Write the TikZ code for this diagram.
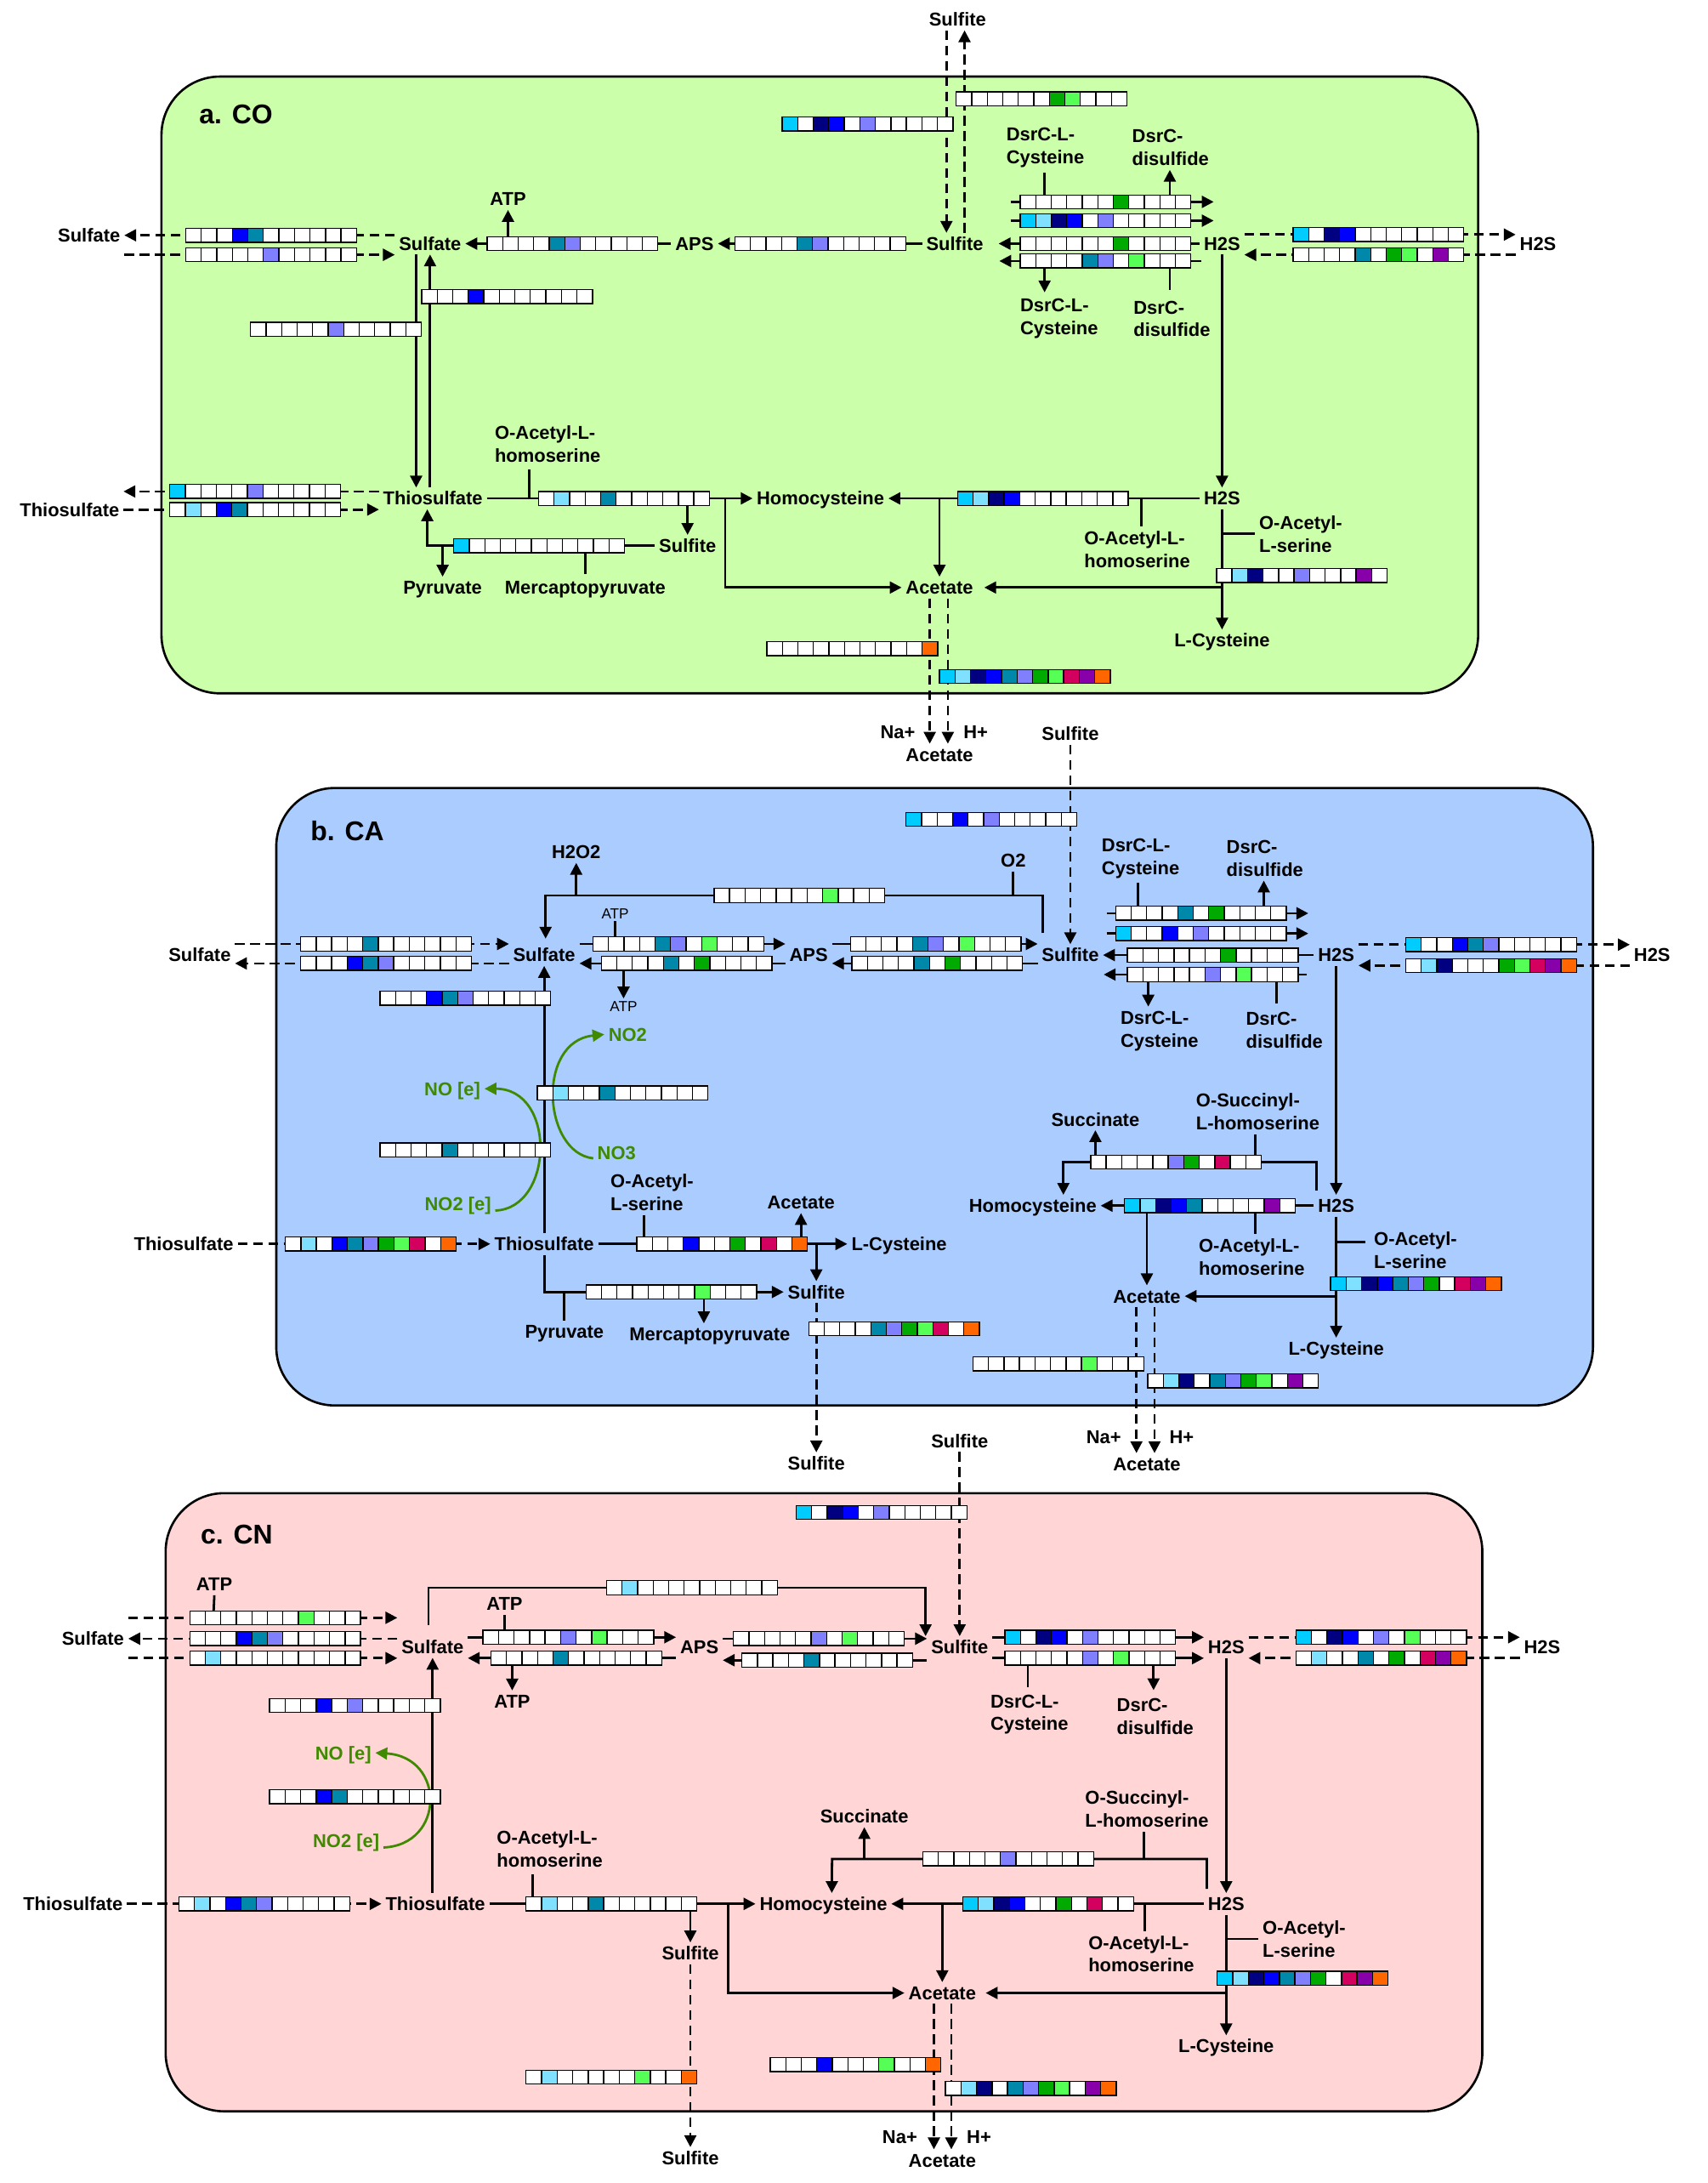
\documentclass[tikz,border=0pt]{standalone}
\usepackage{fontspec}
\setmainfont{Liberation Sans}
\usetikzlibrary{arrows.meta}
\definecolor{PanelGreen}{HTML}{CCFFAA}
\definecolor{PanelBlue}{HTML}{AACCFF}
\definecolor{PanelPink}{HTML}{FFD5D5}
\definecolor{NitroGreen}{HTML}{3F8A00}
\definecolor{g1}{HTML}{00CCFF}
\definecolor{g2}{HTML}{80E0FF}
\definecolor{g3}{HTML}{000080}
\definecolor{g4}{HTML}{0000FF}
\definecolor{g5}{HTML}{0088AA}
\definecolor{g6}{HTML}{8080FF}
\definecolor{g7}{HTML}{00AA00}
\definecolor{g8}{HTML}{55FF55}
\definecolor{g9}{HTML}{D40060}
\definecolor{g10}{HTML}{8800AA}
\definecolor{g11}{HTML}{FF6600}
\newcommand{\metabfont}{\fontsize{13.4}{16.3}\selectfont\bfseries}
\newcommand{\smallatpfont}{\fontsize{10.5}{12}\selectfont}
\newcommand{\panelfont}{\fontsize{19.5}{22}\selectfont\bfseries}
\pgfdeclarelayer{front}
\pgfsetlayers{main,front}
\tikzset{
  met/.style={font=\metabfont, inner sep=0pt, outer sep=3pt, text height=9.6pt, text depth=0pt},
  met2/.style={font=\metabfont, inner sep=0pt, outer sep=3pt, align=left},
  atp/.style={font=\smallatpfont, inner sep=0pt, outer sep=2pt, text height=7.6pt, text depth=0pt},
  nox/.style={met, text=NitroGreen},
  paneltitle/.style={font=\panelfont, inner sep=0pt, anchor=west},
  panelbox/.style={draw=black, line width=1.6pt, rounded corners=42pt},
  conn/.style={line width=1.7pt},
  arrow/.style={line width=1.7pt, -{Triangle[length=8.5pt, width=8.5pt]}},
  dasharrow/.style={arrow, dash pattern=on 7pt off 4pt},
  garrow/.style={arrow, draw=NitroGreen},
  gsq/.style={draw=black, line width=0.8pt},
  stripbox/.style={minimum width=122.65pt, minimum height=10pt, inner sep=0pt, outer sep=0pt}
}
% one strip of 11 genome squares: name, left x, centre y, coloured positions
\newcommand{\gstrip}[4]{%
  \begin{pgfonlayer}{front}
  \node[stripbox] (#1) at ({#2+61.325},#3) {};
  \foreach \k in {1,...,11}
    \draw[gsq, fill=white] ({#2+(\k-1)*11.15},{#3-5}) rectangle ++(11.15,10);
  \foreach \k in {#4}
    \draw[gsq, fill=g\k] ({#2+(\k-1)*11.15},{#3-5}) rectangle ++(11.15,10);
  \end{pgfonlayer}}

\begin{document}
\begin{tikzpicture}[x=1pt, y=-1pt]
  \useasboundingbox (0,0) rectangle (1227,1568);

  % ---------------- a. CO ----------------
  \draw[panelbox, fill=PanelGreen] (116,55) rectangle (1062,498);
  \node[paneltitle] (titleA) at (143,82) {a. CO};
  \node[met] (sulfiteTopA) at (688,14) {Sulfite};
  \node[met] (sulfOutA) at (64,169) {Sulfate};
  \node[met] (sulfA) at (309,175) {Sulfate};
  \node[met] (atpA) at (365,143) {ATP};
  \node[met] (apsA) at (499,175) {APS};
  \node[met] (sulfiteA) at (686,175) {Sulfite};
  \node[met2] (dlcA1) at (751,106) {DsrC-L-\\Cysteine};
  \node[met2] (ddsA1) at (841,106) {DsrC-\\disulfide};
  \node[met2] (dlcA2) at (761,229) {DsrC-L-\\Cysteine};
  \node[met2] (ddsA2) at (842,229) {DsrC-\\disulfide};
  \node[met] (h2sA) at (878,175) {H2S};
  \node[met] (h2sOutA) at (1105,175) {H2S};
  \node[met] (thioOutA) at (50,366) {Thiosulfate};
  \node[met] (thioA) at (311,358) {Thiosulfate};
  \node[met2] (oahsA1) at (393.5,319) {O-Acetyl-L-\\homoserine};
  \node[met] (sulfiteA2) at (494,392) {Sulfite};
  \node[met] (pyrA) at (318,422) {Pyruvate};
  \node[met] (mpyrA) at (420.5,422) {Mercaptopyruvate};
  \node[met] (homoA) at (589.5,358) {Homocysteine};
  \node[met] (h2sA2) at (878,358) {H2S};
  \node[met2] (oahsA2) at (817,394.5) {O-Acetyl-L-\\homoserine};
  \node[met2] (oasA) at (934.5,383.5) {O-Acetyl-\\L-serine};
  \node[met] (acetA) at (675,422) {Acetate};
  \node[met] (lcysA) at (878,460) {L-Cysteine};
  \node[met] (naA) at (645,525.5) {Na+};
  \node[met] (hA) at (701,525.5) {H+};
  \node[met] (acetOutA) at (675,542) {Acetate};

  \draw[dasharrow] ([xshift=-8pt]sulfiteTopA.south) -- ([xshift=-6pt]sulfiteA.north);
  \draw[dasharrow] ([xshift=7pt]sulfiteA.north) -- ([xshift=5pt]sulfiteTopA.south);
  \draw[dasharrow] ([yshift=6pt]sulfA.west) -- (sulfOutA.east);
  \draw[dasharrow] ([yshift=-14pt]sulfOutA.east) -- ([yshift=-8pt]sulfA.west);
  \draw[arrow] (apsA.west) -- (sulfA.east);
  \draw[arrow] (365,170) -- (atpA.south);
  \draw[arrow] (sulfiteA.west) -- (apsA.east);
  \draw[arrow] (726,145) -- (872,145);
  \draw[arrow] (726,158.5) -- (872,158.5);
  \draw[arrow] (h2sA.west) -- ([xshift=8pt]sulfiteA.east);
  \draw[arrow] (863,187.5) -- (718,187.5);
  \draw[conn] (750.5,124) -- (750.5,140);
  \draw[arrow] (840.5,140) -- (840.5,122);
  \draw[arrow] (750.5,192.5) -- (750.5,210);
  \draw[conn] (840.5,192.5) -- (840.5,208);
  \draw[dasharrow] ([yshift=6.5pt]h2sA.east) -- ([yshift=6.5pt]h2sOutA.west);
  \draw[dasharrow] ([yshift=-8pt]h2sOutA.west) -- ([yshift=-8pt]h2sA.east);
  \draw[arrow] (h2sA.south) -- (h2sA2.north);
  \draw[arrow] ([xshift=-10pt]sulfA.south) -- ([xshift=-12pt]thioA.north);
  \draw[arrow] ([xshift=-2pt]thioA.north) -- (sulfA.south);
  \draw[dasharrow] ([yshift=5pt]thioA.west) -- ([yshift=13pt]thioOutA.east);
  \draw[dasharrow] (thioOutA.east) -- ([yshift=-8pt]thioA.west);
  \draw[arrow] (thioA.east) -- (homoA.west);
  \draw[conn] (380,337) -- (380,358);
  \draw[arrow] (494,363) -- (sulfiteA2.north);
  \draw[arrow] (521,358) |- (acetA.west);
  \draw[arrow] (sulfiteA2.west) -| ([xshift=-4pt]thioA.south);
  \draw[arrow] (pyrA.north |- sulfiteA2.west) -- (pyrA.north);
  \draw[conn] (mpyrA.north |- sulfiteA2.west) -- ([yshift=2pt]mpyrA.north);
  \draw[arrow] (h2sA2.west) -- (homoA.east);
  \draw[conn] (820,358) -- (820,378);
  \draw[arrow] (acetA.north |- homoA.east) -- (acetA.north);
  \draw[arrow] (h2sA2.south) -- (lcysA.north);
  \draw[conn] (h2sA2.south |- oasA.west) -- (oasA.west);
  \draw[arrow] (h2sA2.south |- acetA.east) -- ([xshift=5pt]acetA.east);
  \draw[dasharrow] ([xshift=-7pt]acetA.south) -- ([xshift=-7pt]acetOutA.north);
  \draw[dasharrow] ([xshift=6pt]acetA.south) -- ([xshift=6pt]acetOutA.north);

  \gstrip{sA1}{687}{71}{7,8}
  \gstrip{sA2}{562}{89}{1,3,4,6}
  \gstrip{sA3}{133.5}{169}{4,5}
  \gstrip{sA4}{133.5}{183}{6}
  \gstrip{sA5}{350}{175}{5,6}
  \gstrip{sA6}{528}{175}{5,6}
  \gstrip{sA7}{733}{145}{7}
  \gstrip{sA8}{733}{158.5}{1,2,3,4,6}
  \gstrip{sA9}{733}{175}{7}
  \gstrip{sA10}{733}{187.5}{5,6,8}
  \gstrip{sA11}{929}{168.5}{1,3,4}
  \gstrip{sA12}{929}{183}{5,7,8,10}
  \gstrip{sA13}{303}{213}{4}
  \gstrip{sA14}{180}{236.5}{6}
  \gstrip{sA15}{122}{353}{1,6}
  \gstrip{sA16}{122}{366}{2,4,5}
  \gstrip{sA17}{387}{358}{2,5}
  \gstrip{sA18}{326}{392}{1}
  \gstrip{sA19}{688}{358}{1,2,3,4}
  \gstrip{sA20}{874}{413.5}{2,3,6,10}
  \gstrip{sA21}{551}{466}{11}
  \gstrip{sA22}{675}{486}{1,2,3,4,5,6,7,8,9,10,11}

  % ---------------- b. CA ----------------
  \draw[panelbox, fill=PanelBlue] (198.5,566) rectangle (1144.5,1009.5);
  \node[paneltitle] (titleB) at (223,597) {b. CA};
  \node[met] (sulfiteTopB) at (769,527) {Sulfite};
  \node[met] (h2o2B) at (414,612) {H2O2};
  \node[met] (o2B) at (728,618) {O2};
  \node[met] (sulfOutB) at (143.5,686) {Sulfate};
  \node[met] (sulfB) at (391,686) {Sulfate};
  \node[atp] (atpB1) at (442,656) {ATP};
  \node[atp] (atpB2) at (448,723) {ATP};
  \node[met] (apsB) at (581,686) {APS};
  \node[met] (sulfiteB) at (769,686) {Sulfite};
  \node[met2] (dlcB1) at (819.5,616.5) {DsrC-L-\\Cysteine};
  \node[met2] (ddsB1) at (908.8,616.5) {DsrC-\\disulfide};
  \node[met2] (dlcB2) at (833,740.5) {DsrC-L-\\Cysteine};
  \node[met2] (ddsB2) at (922.8,740) {DsrC-\\disulfide};
  \node[met] (h2sB) at (960,686) {H2S};
  \node[met] (h2sOutB) at (1187,686) {H2S};
  \node[nox] (no2B) at (451,743) {NO2};
  \node[nox] (noeB) at (325,782) {NO [e]};
  \node[nox] (no3B) at (443,828) {NO3};
  \node[nox] (no2eB) at (329,864.5) {NO2 [e]};
  \node[met] (thioOutB) at (132,893.5) {Thiosulfate};
  \node[met] (thioB) at (391,893.5) {Thiosulfate};
  \node[met2] (oasB1) at (468.5,856.5) {O-Acetyl-\\L-serine};
  \node[met] (acetB1) at (575.5,863.5) {Acetate};
  \node[met] (lcysB1) at (646,893.5) {L-Cysteine};
  \node[met] (sulfiteB2) at (586.5,928) {Sulfite};
  \node[met] (pyrB) at (405.5,956.5) {Pyruvate};
  \node[met] (mpyrB) at (510,958) {Mercaptopyruvate};
  \node[met] (sulfiteOutB) at (586.5,1051) {Sulfite};
  \node[met] (succB) at (787,804) {Succinate};
  \node[met2] (oshB) at (903.7,798.5) {O-Succinyl-\\L-homoserine};
  \node[met] (homoB) at (742,866) {Homocysteine};
  \node[met] (h2sB2) at (960,866) {H2S};
  \node[met2] (oahsB) at (899.3,903) {O-Acetyl-L-\\homoserine};
  \node[met2] (oasB2) at (1017,898) {O-Acetyl-\\L-serine};
  \node[met] (acetB2) at (824,931) {Acetate};
  \node[met] (lcysB2) at (960,968.6) {L-Cysteine};
  \node[met] (naB) at (793,1032) {Na+};
  \node[met] (hB) at (849,1032) {H+};
  \node[met] (acetOutB) at (824,1051.5) {Acetate};

  \draw[conn] (o2B.south) -- (728,643.2);
  \draw[arrow] ([xshift=-20pt,yshift=8pt]sulfiteB.north) -- ++(0,27pt) -| ([xshift=1pt,yshift=4pt]sulfB.north);
  \draw[arrow] (414,643.2) -- (h2o2B.south);
  \draw[dasharrow] (sulfiteTopB.south) -- (sulfiteB.north);
  \draw[dasharrow] ([yshift=8pt]sulfOutB.east) -- ([yshift=8pt]sulfB.west);
  \draw[dasharrow] ([yshift=-6pt]sulfB.west) -- ([yshift=-6pt]sulfOutB.east);
  \draw[arrow] ([yshift=8pt]sulfB.east) -- ([yshift=8pt]apsB.west);
  \draw[arrow] ([yshift=-6pt]apsB.west) -- ([yshift=-6pt]sulfB.east);
  \draw[conn] (atpB1.south) -- (442,673);
  \draw[arrow] (448,697) -- (atpB2.north);
  \draw[arrow] ([yshift=8pt]apsB.east) -- ([yshift=8pt]sulfiteB.west);
  \draw[arrow] ([yshift=-6pt]sulfiteB.west) -- ([yshift=-6pt]apsB.east);
  \draw[arrow] (795,656) -- (940,656);
  \draw[arrow] (795,670.5) -- (940,670.5);
  \draw[arrow] (h2sB.west) -- (sulfiteB.east);
  \draw[arrow] (939,700) -- (793,700);
  \draw[conn] (817.5,634) -- (817.5,651);
  \draw[arrow] (908,651) -- (908,632.5);
  \draw[arrow] (825,705) -- (825,723);
  \draw[conn] (917,705) -- (917,721);
  \draw[dasharrow] ([yshift=7.5pt]h2sB.east) -- ([yshift=7.5pt]h2sOutB.west);
  \draw[dasharrow] ([yshift=-7.5pt]h2sOutB.west) -- ([yshift=-7.5pt]h2sB.east);
  \draw[arrow] (h2sB.south) -- (h2sB2.north);
  \draw[arrow] (thioB.north) -- (sulfB.south);
  \draw[garrow] ([yshift=-4pt]no3B.west) .. controls (390,828) and (385,748) .. (no2B.west);
  \draw[garrow] ([yshift=-5pt]no2eB.east) .. controls (398,868) and (400,782) .. (noeB.east);
  \draw[dasharrow] (thioOutB.east) -- (thioB.west);
  \draw[arrow] (thioB.east) -- (lcysB1.west);
  \draw[conn] (462.7,872.7) -- (462.7,893.5);
  \draw[arrow] (acetB1.south |- thioB.east) -- (acetB1.south);
  \draw[arrow] (sulfiteB2.north |- thioB.east) -- (sulfiteB2.north);
  \draw[arrow] (thioB.south) |- (sulfiteB2.west);
  \draw[conn] (pyrB.north |- sulfiteB2.west) -- (pyrB.north);
  \draw[arrow] (505.7,928) -- (505.7,950.5);
  \draw[dasharrow] (sulfiteB2.south) -- (sulfiteOutB.north);
  \draw[arrow] ([xshift=-14pt,yshift=3pt]h2sB2.north) |- (764,834.7) -- ([xshift=22pt]homoB.north);
  \draw[arrow] (787,834.7) -- (succB.south);
  \draw[conn] (902,814.7) -- (902,834.7);
  \draw[arrow] (h2sB2.west) -- (homoB.east);
  \draw[conn] (902,866) -- (902,886.5);
  \draw[arrow] (acetB2.north |- homoB.east) -- (acetB2.north);
  \draw[arrow] (h2sB2.south) -- (lcysB2.north);
  \draw[conn] (960,892) -- (981,892);
  \draw[arrow] (h2sB2.south |- acetB2.east) -- (acetB2.east);
  \draw[dasharrow] ([xshift=-7.5pt]acetB2.south) -- ([xshift=-7.5pt]acetOutB.north);
  \draw[dasharrow] ([xshift=5.5pt]acetB2.south) -- ([xshift=5.5pt]acetOutB.north);

  \gstrip{sB1}{513}{643.2}{8}
  \gstrip{sB2}{651}{588.5}{1,4,6}
  \gstrip{sB3}{216}{678}{5}
  \gstrip{sB4}{216}{692}{4,5,6}
  \gstrip{sB5}{426}{678}{5,6,8}
  \gstrip{sB6}{432}{692}{5,7}
  \gstrip{sB7}{611}{678}{5,6,8}
  \gstrip{sB8}{612}{692}{5,7}
  \gstrip{sB9}{801.5}{656}{5,7}
  \gstrip{sB10}{801.5}{670.5}{1,4,6}
  \gstrip{sB11}{810}{686}{7}
  \gstrip{sB12}{810}{700}{6,8}
  \gstrip{sB13}{1010}{678.5}{1,4,5,6}
  \gstrip{sB14}{1010}{693.5}{2,3,7,8,9,10,11}
  \gstrip{sB15}{273}{717}{4,5,6}
  \gstrip{sB16}{386}{785}{2,5}
  \gstrip{sB17}{273}{826}{5}
  \gstrip{sB18}{205}{893.5}{2,4,5,6,7,8,9,11}
  \gstrip{sB19}{457.5}{893.5}{4,7,9,11}
  \gstrip{sB20}{421}{928}{8}
  \gstrip{sB21}{581}{954.5}{5,6,7,8,9,11}
  \gstrip{sB22}{783.6}{834.7}{6,7,9}
  \gstrip{sB23}{808}{866}{1,2,3,4,5,10}
  \gstrip{sB24}{956}{922}{1,2,3,4,5,6,7,9,10,11}
  \gstrip{sB25}{699}{979.6}{8}
  \gstrip{sB26}{824.6}{991.8}{2,3,5,6,7,8,10}

  % ---------------- c. CN ----------------
  \draw[panelbox, fill=PanelPink] (119,1072.5) rectangle (1065,1516.5);
  \node[paneltitle] (titleC) at (144,1102) {c. CN};
  \node[met] (sulfiteTopC) at (689.5,1035) {Sulfite};
  \node[met] (sulfOutC) at (66.8,1177) {Sulfate};
  \node[met] (sulfC) at (310.8,1183) {Sulfate};
  \node[met] (atpC0) at (154,1138) {ATP};
  \node[met] (atpC1) at (362.5,1152) {ATP};
  \node[met] (atpC2) at (368,1222) {ATP};
  \node[met] (apsC) at (502.5,1183) {APS};
  \node[met] (sulfiteC) at (689.5,1183) {Sulfite};
  \node[met2] (dlcC) at (739.6,1231.5) {DsrC-L-\\Cysteine};
  \node[met2] (ddsC) at (830,1233) {DsrC-\\disulfide};
  \node[met] (h2sC) at (881,1183) {H2S};
  \node[met] (h2sOutC) at (1108,1183) {H2S};
  \node[nox] (noeC) at (246.6,1259) {NO [e]};
  \node[nox] (no2eC) at (248.7,1322) {NO2 [e]};
  \node[met] (thioOutC) at (52.4,1367.5) {Thiosulfate};
  \node[met] (thioC) at (312.8,1367.5) {Thiosulfate};
  \node[met2] (oahsC1) at (395,1328) {O-Acetyl-L-\\homoserine};
  \node[met] (sulfiteC2) at (496,1403) {Sulfite};
  \node[met] (sulfiteOutC) at (496,1550) {Sulfite};
  \node[met] (homoC) at (591.6,1367.5) {Homocysteine};
  \node[met] (succC) at (621,1304.6) {Succinate};
  \node[met2] (oshC) at (824,1299.4) {O-Succinyl-\\L-homoserine};
  \node[met] (h2sC2) at (881,1367.5) {H2S};
  \node[met2] (oahsC2) at (820,1403.5) {O-Acetyl-L-\\homoserine};
  \node[met2] (oasC) at (937,1392.7) {O-Acetyl-\\L-serine};
  \node[met] (acetC) at (677,1431.5) {Acetate};
  \node[met] (lcysC) at (881,1469.7) {L-Cysteine};
  \node[met] (naC) at (646.5,1535) {Na+};
  \node[met] (hC) at (703.4,1535) {H+};
  \node[met] (acetOutC) at (677,1551.6) {Acetate};

  \draw[dasharrow] (sulfiteTopC.south) -- (sulfiteC.north);
  \draw[dasharrow] ([yshift=15pt]sulfOutC.east) -- ([yshift=21pt]sulfC.west);
  \draw[dasharrow] ([yshift=6pt]sulfC.west) -- (sulfOutC.east);
  \draw[dasharrow] ([yshift=-14pt]sulfOutC.east) -- ([yshift=-8pt]sulfC.west);
  \draw[conn] (atpC0.south) -- (153.5,1157);
  \draw[arrow] ([xshift=-3pt,yshift=8pt]sulfC.north) |- (665,1140.4) -- ([xshift=-24.5pt]sulfiteC.north);
  \draw[arrow] ([yshift=7pt]sulfC.east) -- ([yshift=7pt]apsC.west);
  \draw[arrow] ([yshift=-8pt]apsC.west) -- ([yshift=-8pt]sulfC.east);
  \draw[conn] (atpC1.south) -- (362.5,1171);
  \draw[arrow] (368,1196) -- (atpC2.north);
  \draw[arrow] ([yshift=6pt]apsC.east) -- ([yshift=6pt]sulfiteC.west);
  \draw[arrow] ([yshift=-9.5pt]sulfiteC.west) -- ([yshift=-9.5pt]apsC.east);
  \draw[arrow] ([yshift=7pt]sulfiteC.east) -- ([yshift=7pt]h2sC.west);
  \draw[arrow] ([yshift=-8pt]sulfiteC.east) -- ([yshift=-8pt]h2sC.west);
  \draw[conn] (738.5,1196) -- (738.5,1212);
  \draw[arrow] (828.8,1196) -- (828.8,1214);
  \draw[dasharrow] ([yshift=7pt]h2sC.east) -- ([yshift=7pt]h2sOutC.west);
  \draw[dasharrow] ([yshift=-8pt]h2sOutC.west) -- ([yshift=-8pt]h2sC.east);
  \draw[arrow] (h2sC.south) -- (h2sC2.north);
  \draw[arrow] ([xshift=-2pt]thioC.north) -- (sulfC.south);
  \draw[garrow] ([yshift=-5pt]no2eC.east) .. controls (320,1325) and (320,1262) .. (noeC.east);
  \draw[dasharrow] (thioOutC.east) -- (thioC.west);
  \draw[arrow] (thioC.east) -- (homoC.west);
  \draw[conn] (382.7,1346.5) -- (382.7,1367.5);
  \draw[arrow] (sulfiteC2.north |- thioC.east) -- (sulfiteC2.north);
  \draw[dasharrow] (sulfiteC2.south) -- (sulfiteOutC.north);
  \draw[arrow] (523,1367.5) |- (acetC.west);
  \draw[arrow] ([xshift=-14pt,yshift=3pt]h2sC2.north) |- (597.8,1335.2) -- ([xshift=6pt]homoC.north);
  \draw[arrow] (621,1335.2) -- (succC.south);
  \draw[conn] (822,1315.8) -- (822,1335.2);
  \draw[arrow] (h2sC2.west) -- (homoC.east);
  \draw[conn] (822.6,1367.5) -- (822.6,1387);
  \draw[arrow] (acetC.north |- homoC.east) -- (acetC.north);
  \draw[arrow] (h2sC2.south) -- (lcysC.north);
  \draw[conn] (h2sC2.south |- oasC.west) -- (oasC.west);
  \draw[arrow] (h2sC2.south |- acetC.east) -- ([xshift=4pt]acetC.east);
  \draw[dasharrow] ([xshift=-6pt]acetC.south) -- ([xshift=-6pt]acetOutC.north);
  \draw[dasharrow] ([xshift=6.5pt]acetC.south) -- ([xshift=6.5pt]acetOutC.north);

  \gstrip{sC1}{572}{1086.4}{1,3,4,6}
  \gstrip{sC2}{136.4}{1162}{8}
  \gstrip{sC3}{136.4}{1177}{4,5,6}
  \gstrip{sC4}{136.4}{1191}{2}
  \gstrip{sC5}{435.8}{1140.4}{2}
  \gstrip{sC6}{347}{1176}{6,8}
  \gstrip{sC7}{352.7}{1191}{5}
  \gstrip{sC8}{527}{1177}{6,8}
  \gstrip{sC9}{533}{1192.5}{5}
  \gstrip{sC10}{722}{1176}{1,3,4,6}
  \gstrip{sC11}{722}{1191}{6,8}
  \gstrip{sC12}{931}{1176}{1,3,4,6,8}
  \gstrip{sC13}{931}{1191}{2,5,7,9,10,11}
  \gstrip{sC14}{193.7}{1225}{4,6}
  \gstrip{sC15}{193.7}{1290.6}{4,5}
  \gstrip{sC16}{128.6}{1367.5}{2,4,5,6}
  \gstrip{sC17}{378}{1367.5}{2,5}
  \gstrip{sC18}{378}{1492}{2,8,11}
  \gstrip{sC19}{663}{1335.2}{6}
  \gstrip{sC20}{691.7}{1367.5}{1,2,3,4,7,9}
  \gstrip{sC21}{874.6}{1420.8}{1,2,3,4,5,6,7,9,10,11}
  \gstrip{sC22}{553.4}{1483}{4,8,11}
  \gstrip{sC23}{679.3}{1500}{2,3,5,6,7,8,10,11}
\end{tikzpicture}
\end{document}
